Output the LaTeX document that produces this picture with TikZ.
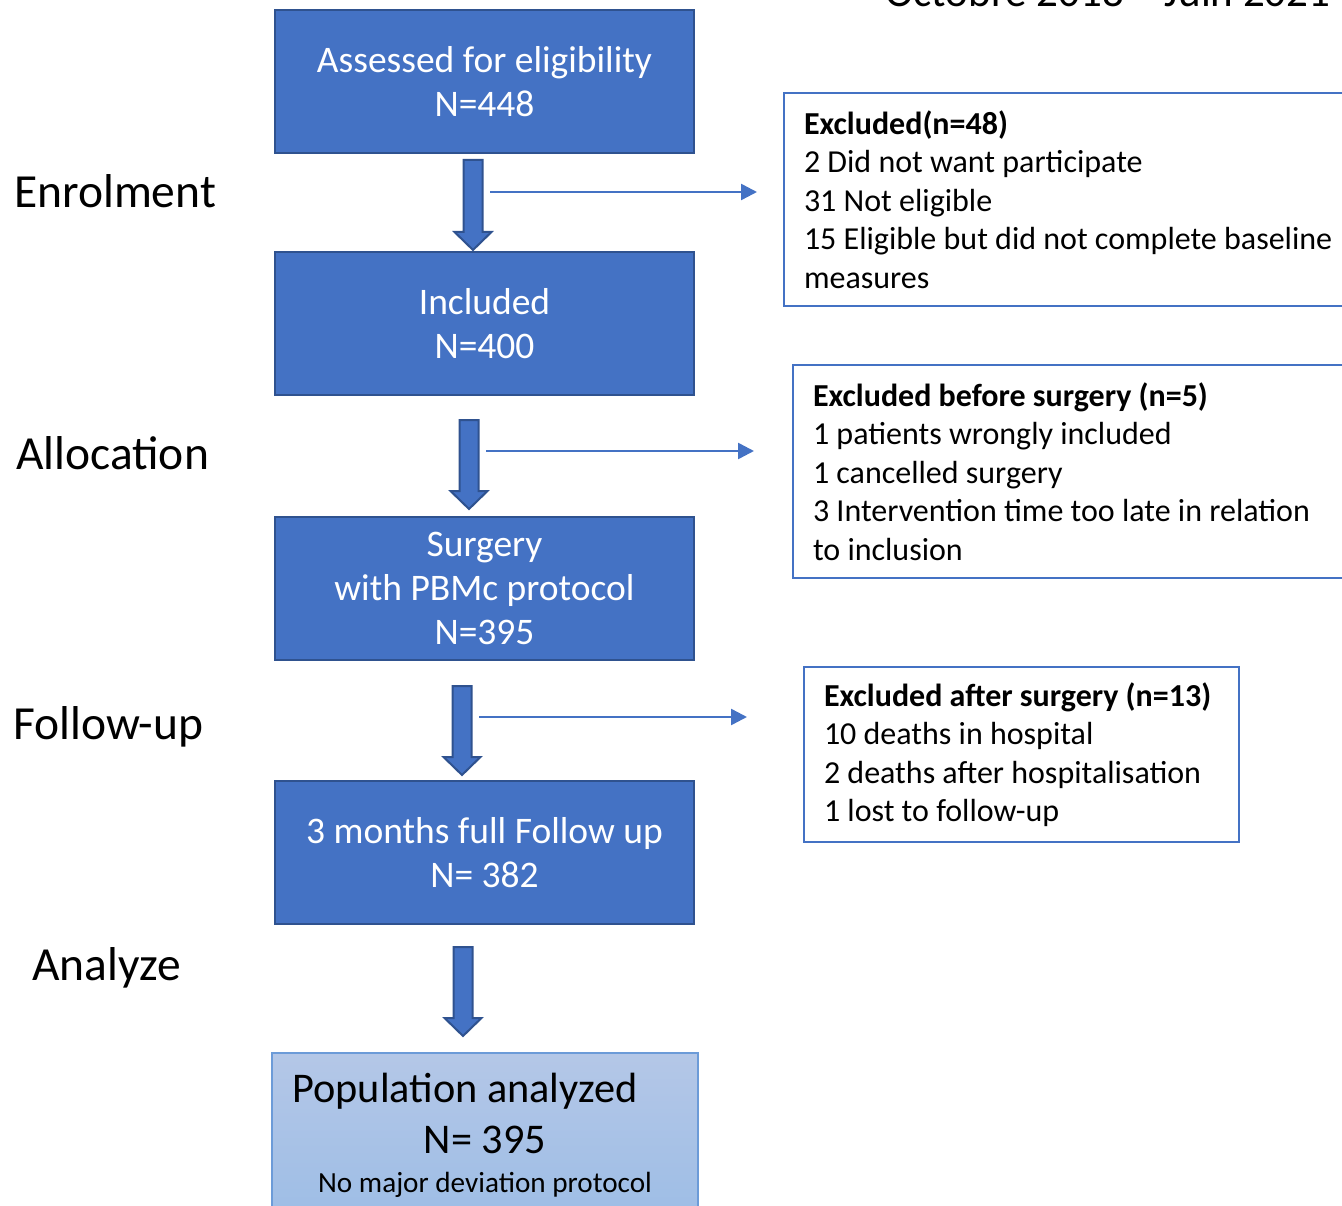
\documentclass[tikz,border=0pt]{standalone}
\usepackage{fontspec}
\setmainfont{Carlito}
\usetikzlibrary{arrows.meta,calc}
\definecolor{boxblue}{HTML}{4472C4}
\definecolor{boxedge}{HTML}{2F528F}
\definecolor{paletop}{HTML}{B4C7E7}
\definecolor{palebot}{HTML}{9DBDE6}
\definecolor{paleedge}{HTML}{6C9BD8}
\newcommand{\boxfont}{\fontsize{37.5}{44}\selectfont}
\newcommand{\sidefont}{\fontsize{32}{38.5}\selectfont}
\newcommand{\stagefont}{\fontsize{47.5}{56}\selectfont}
\newcommand{\popfont}{\fontsize{42.3}{50}\selectfont}
\newcommand{\notefont}{\fontsize{29.2}{34}\selectfont}
% thick block arrow from #1 down to its tip #2
\newcommand{\flowarrow}[2]{%
  \draw[blockarrow] let \p1=(#1), \p2=(#2) in
    (\x1-9.5pt,\y1) -- (\x1+9.5pt,\y1) -- (\x1+9.5pt,\y2+18pt) -- (\x1+18.5pt,\y2+18pt)
    -- (\x2,\y2) -- (\x1-18.5pt,\y2+18pt) -- (\x1-9.5pt,\y2+18pt) -- cycle;}

\begin{document}
\begin{tikzpicture}[x=1pt,y=-1pt,
    mainbox/.style={draw=boxedge,fill=boxblue,line width=2pt,minimum width=419pt,
      minimum height=143pt,inner sep=0pt,text=white,align=center,font=\boxfont},
    sidebox/.style={draw=boxblue,line width=2pt,inner xsep=20pt,inner ysep=0pt,
      align=flush left,font=\sidefont},
    stage/.style={inner sep=0pt,font=\stagefont},
    blockarrow/.style={draw=boxedge,fill=boxblue,line width=2pt,line join=miter},
    thinarrow/.style={draw=boxblue,line width=2.5pt,-{Triangle[length=16pt,width=16pt]}}]
  \useasboundingbox (0,0) rectangle (1342,1206);
  \clip (0,0) rectangle (1342,1206);

  \node[inner sep=0pt,font=\fontsize{43}{50}\selectfont,anchor=base west] (period) at (885,7)
    {Octobre 2018 – Juin 2021};

  % stages
  \node[stage,anchor=base west] (enrol) at (14,208) {Enrolment};
  \node[stage,anchor=base west] (alloc) at (16,469) {Allocation};
  \node[stage,anchor=base west] (follow) at (13,739) {Follow-up};
  \node[stage,anchor=base west] (analyze) at (32,980) {Analyze};

  % main flow
  \node[mainbox] (assessed) at (484.5,81.5) {Assessed for eligibility\\N=448};
  \node[mainbox] (included) at (484.5,323.5) {Included\\N=400};
  \node[mainbox] (surgery) at (484.5,588) {Surgery\\with PBMc protocol\\N=395};
  \node[mainbox] (fullfu) at (484.5,852.5) {3 months full Follow up\\N= 382};
  \node[draw=paleedge,line width=1.5pt,top color=paletop,bottom color=palebot,
    minimum width=426pt,minimum height=169pt] (result) at (485,1137.5) {};
  \node[inner sep=0pt,font=\popfont,anchor=base] (pop) at (465,1102) {Population analyzed};
  \node[inner sep=0pt,font=\popfont,anchor=base] (popn) at (485,1153) {N= 395};
  \node[inner sep=0pt,font=\notefont,anchor=base] (popnote) at (485,1192) {No major deviation protocol};

  % exclusions
  \node[sidebox,text width=560pt,minimum height=213pt] (excl1) at (1084,199.5)
    {\textbf{Excluded(n=48)}\\2 Did not want participate\\31 Not eligible\\
     15 Eligible but did not complete baseline\\measures};
  \node[sidebox,text width=560pt,minimum height=213pt] (excl2) at (1093,471.5)
    {\textbf{Excluded before surgery (n=5)}\\1 patients wrongly included\\1 cancelled surgery\\
     3 Intervention time too late in relation\\to inclusion};
  \node[sidebox,text width=395pt,minimum height=175pt] (excl3) at (1021.5,754.5)
    {\textbf{Excluded after surgery (n=13)}\\10 deaths in hospital\\2 deaths after hospitalisation\\
     1 lost to follow-up};

  % arrows
  \coordinate (a1) at (473,160); \coordinate (a1e) at (473,250);
  \coordinate (a2) at (469,420); \coordinate (a2e) at (469,509);
  \coordinate (a3) at (462,686); \coordinate (a3e) at (462,775);
  \coordinate (a4) at (463,947); \coordinate (a4e) at (463,1036);
  \flowarrow{a1}{a1e}
  \flowarrow{a2}{a2e}
  \flowarrow{a3}{a3e}
  \flowarrow{a4}{a4e}

  \coordinate (t1) at (490,192); \coordinate (t1e) at (757,192);
  \coordinate (t2) at (486,451); \coordinate (t2e) at (754,451);
  \coordinate (t3) at (479,717); \coordinate (t3e) at (747,717);
  \draw[thinarrow] (t1) -- (t1e);
  \draw[thinarrow] (t2) -- (t2e);
  \draw[thinarrow] (t3) -- (t3e);
\end{tikzpicture}
\end{document}
